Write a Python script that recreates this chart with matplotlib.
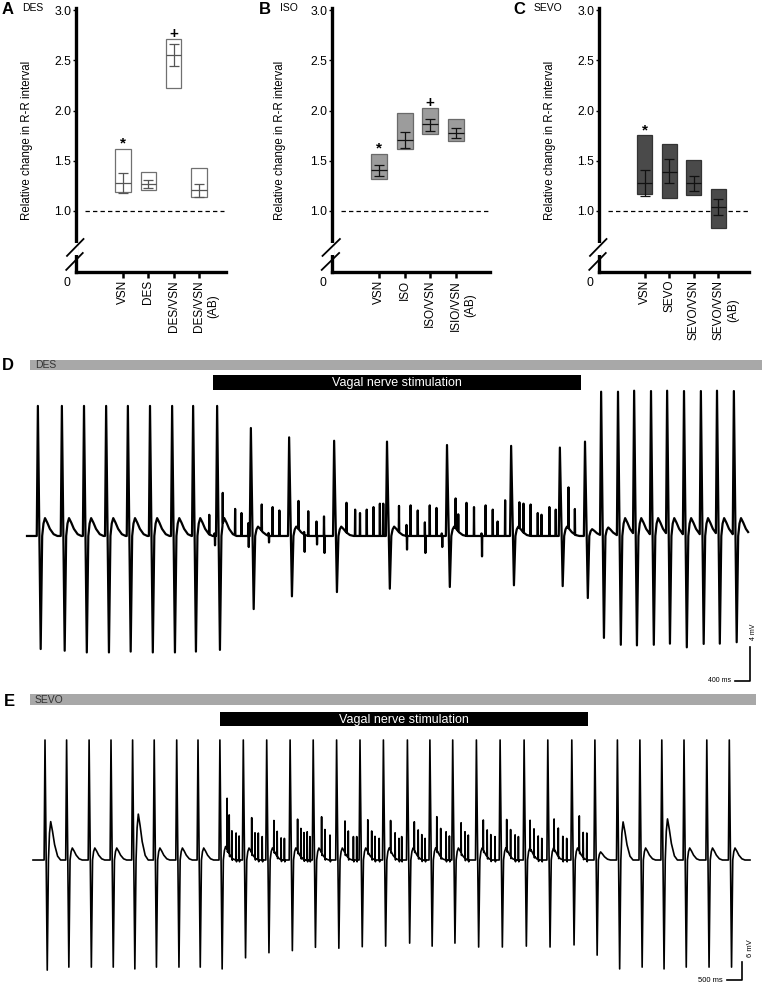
import numpy as np
import matplotlib
matplotlib.use('Agg')
import matplotlib.pyplot as plt
import matplotlib.transforms as mtransforms
from matplotlib.patches import Rectangle

plt.rcParams['font.family'] = ['Liberation Sans', 'DejaVu Sans']

W, H = 767, 999

# ---- panels A-C: relative change in R-R interval
# box = range, middle line = mean, whiskers = SEM
des_labels = ['VSN', 'DES', 'DES/VSN', 'DES/VSN\n(AB)']
des_lo = [1.19, 1.21, 2.22, 1.14]
des_hi = [1.62, 1.39, 2.71, 1.43]
des_mid = [1.28, 1.27, 2.55, 1.21]
des_elo = [1.18, 1.23, 2.44, 1.14]
des_ehi = [1.38, 1.31, 2.66, 1.27]
des_marks = [(0, '*'), (2, '+')]

iso_labels = ['VSN', 'ISO', 'ISO/VSN', 'ISIO/VSN\n(AB)']
iso_lo = [1.32, 1.62, 1.77, 1.70]
iso_hi = [1.57, 1.975, 2.02, 1.92]
iso_mid = [1.41, 1.71, 1.865, 1.78]
iso_elo = [1.35, 1.63, 1.80, 1.73]
iso_ehi = [1.46, 1.79, 1.915, 1.83]
iso_marks = [(0, '*'), (2, '+')]

sevo_labels = ['VSN', 'SEVO', 'SEVO/VSN', 'SEVO/VSN\n(AB)']
sevo_lo = [1.17, 1.13, 1.16, 0.83]
sevo_hi = [1.755, 1.665, 1.51, 1.22]
sevo_mid = [1.28, 1.39, 1.28, 1.04]
sevo_elo = [1.15, 1.28, 1.20, 0.96]
sevo_ehi = [1.41, 1.52, 1.35, 1.12]
sevo_marks = [(0, '*')]

# ---- panel D: ECG under desflurane (time in s, amplitude in mV)
d_beat_t = [1.01, 1.65, 2.24, 2.83, 3.41, 4.00, 4.59, 5.15, 5.79,
            6.69, 7.71, 8.91, 10.32, 11.92, 13.63, 14.93, 15.60,
            16.03, 16.48, 16.91, 17.36, 17.79, 18.24, 18.69, 19.12, 19.57]
d_beat_r = [15.3] * 9 + [12.7, 11.6, 11.2, 11.1, 10.7, 10.6, 10.4, 11.1] + [16.9] * 9
d_beat_s = [-13.3, -13.5, -13.7, -13.7, -13.6, -13.7, -13.7, -13.6, -13.4,
            -8.6, -7.1, -6.6, -6.2, -6.0, -5.8, -5.9, -7.3,
            -12.0, -12.8, -12.9, -12.8, -12.7, -13.1, -12.7, -12.7, -12.5]
d_beat_tw = [2.1] * 9 + [1.1] * 7 + [0.8] + [1.0] + [2.1] * 8
d_spike_t = [5.58, 5.72, 5.94, 6.27, 6.44, 6.62, 6.98, 7.16, 7.27, 7.45,
             7.96, 8.11, 8.22, 8.44, 8.64, 9.24, 9.47, 9.60, 9.78, 9.96,
             10.13, 10.22, 10.64, 10.84, 10.95, 11.14, 11.33, 11.46, 11.64, 11.78,
             12.15, 12.22, 12.44, 12.64, 12.84, 12.95, 13.14, 13.27, 13.47, 13.85,
             13.96, 14.15, 14.34, 14.44, 14.65, 14.82, 15.16, 15.33]
d_spike_up = [2.3, 0.3, 3.6, 3.1, 2.7, 1.5, 3.1, 0.3, 3.4, 3.0,
              3.3, 0.3, 2.9, 1.7, 2.3, 3.5, 3.1, 2.7, 3.1, 3.4,
              3.8, 3.8, 3.1, 1.3, 3.6, 3.0, 1.6, 3.6, 3.3, 0.3,
              3.5, 2.0, 3.9, 3.4, 0.3, 3.6, 3.1, 1.7, 4.2, 3.0,
              3.4, 3.7, 2.7, 2.5, 3.4, 3.1, 4.8, 3.0]
d_spike_dn = [0, -1.1, 0, 0, 0, -1.3, 0, -0.8, 0, 0,
              0, -2.0, 0, -1.0, -2.0, 0, 0, 0, 0, 0,
              0, 0, 0, -1.6, 0, 0, -2.0, 0, 0, -1.3,
              0, 0, 0, 0, -2.4, 0, 0, 0, 0, 0,
              0, 0, 0, 0, 0, 0, 0, 0]

# ---- panel E: ECG under sevoflurane
e_beat_t = [1.50, 2.22, 2.97, 3.70, 4.42, 5.14, 5.89, 6.60, 7.33,
            8.11, 8.89, 9.67, 10.44, 11.22, 12.00, 12.78, 13.58, 14.33, 15.09,
            15.88, 16.67, 17.47, 18.26, 19.06, 19.83, 20.58, 21.33, 22.06, 22.80, 23.56, 24.31]
e_beat_r = [40.0] * 31
e_beat_s = [-36.7, -35.7, -35.7, -35.7, -36.3, -35.7, -35.7, -35.7, -36.3,
            -32.6, -30.9, -30.2, -29.1, -29.4, -28.9, -28.7, -27.7, -28.7, -27.7,
            -29.0, -29.0, -28.7, -29.0, -28.3,
            -31.7, -36.3, -35.7, -36.3, -35.7, -35.7, -35.7]
e_beat_tw = [12.8, 4, 4, 4, 15.3, 4, 4, 4, 4.5] + [4] * 15 + [2.7, 12.7, 4, 13.7, 4, 4, 4]
e_spike_t = [7.57, 7.64, 7.73, 7.87, 7.97, 8.39, 8.50, 8.61, 8.74,
             9.13, 9.24, 9.37, 9.48, 9.92, 10.03, 10.13, 10.24, 10.33,
             10.72, 10.83, 11.00, 11.50, 11.61, 11.78, 11.89,
             12.26, 12.39, 12.50, 12.64, 13.02, 13.17, 13.30, 13.39,
             13.81, 13.94, 14.06, 14.17, 14.56, 14.69, 14.87, 14.98,
             15.37, 15.50, 15.61, 16.11, 16.24, 16.36, 16.50,
             16.89, 17.02, 17.17, 17.28, 17.67, 17.80, 17.94, 18.06,
             18.47, 18.61, 18.76, 18.89, 19.31, 19.44, 19.56]
e_spike_up = [17.0, 13.0, 9.0, 9.0, 8.0, 11.7, 8.3, 8.9, 7.8,
              10.0, 8.3, 7.2, 7.2, 10.6, 9.4, 8.9, 9.4, 7.8,
              12.0, 9.4, 8.3, 10.6, 8.9, 7.8, 7.8,
              10.6, 8.9, 7.8, 7.2, 10.0, 8.3, 7.2, 7.8,
              9.4, 8.9, 8.3, 7.2, 11.1, 9.4, 9.4, 8.0,
              10.0, 8.9, 8.3, 10.0, 8.9, 8.3, 7.8,
              10.0, 8.9, 8.3, 7.8, 9.4, 8.9, 7.8, 7.2,
              10.0, 9.4, 7.8, 7.2, 11.7, 8.3, 8.9]
e_spike_dn = [-0.6] * len(e_spike_up)


def px_axes(fig, x0, y0, x1, y1):
    return fig.add_axes([x0 / W, 1 - y1 / H, (x1 - x0) / W, (y1 - y0) / H])


def box_panel(ax, labels, lo, hi, mid, elo, ehi, marks, face, edge, errc, xmax):
    x = np.arange(1, len(labels) + 1)
    lo, hi, mid = np.array(lo), np.array(hi), np.array(mid)
    elo, ehi = np.array(elo), np.array(ehi)
    ax.patch.set_visible(False)
    ax.bar(x, hi - lo, bottom=lo, width=0.62, color=face, edgecolor=edge, linewidth=0.9, zorder=2)
    ax.hlines(mid, x - 0.31, x + 0.31, color=errc, lw=0.9, zorder=3)
    ax.errorbar(x, mid, yerr=[mid - elo, ehi - mid], fmt='none', ecolor=errc,
                elinewidth=0.9, capsize=3.5, capthick=0.9, zorder=3)
    for i, m in marks:
        ax.text(x[i], hi[i] + 0.01, m, ha='center', va='baseline', fontsize=11, fontweight='bold')
    ax.axhline(1.0, xmin=0.06, xmax=0.99, color='black', ls=(0, (3.5, 2.5)), lw=0.9, zorder=1)

    ax.set_xlim(-0.86, xmax)
    ax.set_ylim(0.393, 3.02)
    for s in ('top', 'right'):
        ax.spines[s].set_visible(False)
    for s in ('left', 'bottom'):
        ax.spines[s].set_linewidth(2.4)
    ax.set_yticks([1.0, 1.5, 2.0, 2.5, 3.0])
    ax.set_yticklabels(['1.0', '1.5', '2.0', '2.5', '3.0'], fontsize=8.8)
    ax.tick_params(axis='y', length=2.5, width=1, pad=1)
    ax.set_xticks(x)
    ax.set_xticklabels([])
    ax.tick_params(axis='x', length=4, width=1.8)
    ax.set_ylabel('Relative change in R-R interval', fontsize=8.3)
    ax.yaxis.set_label_coords(-0.29, 0.5)

    trans = mtransforms.blended_transform_factory(ax.transData, ax.transAxes)
    for xi, lab in zip(x, labels):
        if '\n' in lab:
            ax.text(xi - 0.24, -0.03, lab, transform=trans, rotation=90, rotation_mode='anchor',
                    ha='right', va='top', fontsize=8.5, multialignment='center', linespacing=1.3)
        else:
            ax.text(xi, -0.03, lab, transform=trans, rotation=90, rotation_mode='anchor',
                    ha='right', va='center', fontsize=8.5)
    ax.text(-0.06, -0.04, '0', transform=ax.transAxes, ha='center', va='center', fontsize=8.8)

    # axis break on the y axis
    ax.plot([0, 0], [0.063, 0.11], transform=ax.transAxes, color='white', lw=4,
            clip_on=False, zorder=5, solid_capstyle='butt')
    ax.plot([-0.06, 0.05], [0.061, 0.125], transform=ax.transAxes, color='black', lw=1.3,
            clip_on=False, zorder=6)
    ax.plot([-0.065, 0.045], [0.008, 0.072], transform=ax.transAxes, color='black', lw=1.3,
            clip_on=False, zorder=6)


def trace(beat_t, beat_r, beat_s, beat_tw, spike_t, spike_up, spike_dn, t0, t1):
    beat_off = np.array([-0.03, 0.0, 0.075, 0.115, 0.15, 0.19, 0.25, 0.32, 0.42, 0.52])
    spike_off = np.array([-0.007, 0.0, 0.007, 0.014, 0.021])
    events = []
    for t, r, s, tw in zip(beat_t, beat_r, beat_s, beat_tw):
        events.append((t + beat_off,
                       np.array([0, r, s, 0, 0.7 * tw, tw, 0.75 * tw, 0.4 * tw, 0.1 * tw, 0])))
    for t, u, d in zip(spike_t, spike_up, spike_dn):
        events.append((t + spike_off, np.array([0, u, 0, d, 0])))
    tv = np.unique(np.concatenate([[t0, t1]] + [e[0] for e in events]))
    tv = tv[(tv >= t0) & (tv <= t1)]
    yv = np.zeros_like(tv)
    for kt, kv in events:
        yv += np.interp(tv, kt, kv, left=0, right=0)
    return tv, yv


fig = plt.figure(figsize=(W / 100, H / 100), dpi=100)

# ---- labels and condition bars (pixel layout overlay)
ov = fig.add_axes([0, 0, 1, 1])
ov.set_xlim(0, W)
ov.set_ylim(H, 0)
ov.axis('off')
ov.add_patch(Rectangle((30, 360), 732, 10, color='#a8a8a8', lw=0))
ov.add_patch(Rectangle((213, 375), 368, 15, color='black', lw=0))
ov.add_patch(Rectangle((30, 694), 726, 11, color='#a8a8a8', lw=0))
ov.add_patch(Rectangle((220, 712), 368, 14, color='black', lw=0))
ov.text(35, 365.5, 'DES', ha='left', va='center', fontsize=7.5, color='#333333')
ov.text(35, 700, 'SEVO', ha='left', va='center', fontsize=7.5, color='#333333')
ov.text(397, 383, 'Vagal nerve stimulation', ha='center', va='center', fontsize=9, color='white')
ov.text(404, 719.5, 'Vagal nerve stimulation', ha='center', va='center', fontsize=9, color='white')

for x, y, letter in [(2, 10, 'A'), (259, 10, 'B'), (513, 10, 'C'), (2, 366, 'D'), (4, 701, 'E')]:
    ov.text(x, y, letter, ha='left', va='center', fontsize=12, fontweight='bold')
for x, y, name in [(22, 8, 'DES'), (280, 8, 'ISO'), (534, 8, 'SEVO')]:
    ov.text(x, y, name, ha='left', va='center', fontsize=7.5)

ax_a = px_axes(fig, 76, 8, 226, 272)
box_panel(ax_a, des_labels, des_lo, des_hi, des_mid, des_elo, des_ehi, des_marks,
          'white', '#707070', '#555555', 5.07)
ax_b = px_axes(fig, 332, 8, 490, 272)
box_panel(ax_b, iso_labels, iso_lo, iso_hi, iso_mid, iso_elo, iso_ehi, iso_marks,
          '#9c9c9c', '#6a6a6a', '#111111', 5.35)
ax_c = px_axes(fig, 599, 8, 749, 272)
box_panel(ax_c, sevo_labels, sevo_lo, sevo_hi, sevo_mid, sevo_elo, sevo_ehi, sevo_marks,
          '#4a4a4a', '#333333', '#111111', 5.25)

# ---- ECG traces
ax_d = px_axes(fig, 0, 385, W, 690)
t, v = trace(d_beat_t, d_beat_r, d_beat_s, d_beat_tw, d_spike_t, d_spike_up, d_spike_dn, 0.72, 19.95)
ax_d.plot(t, v, color='black', lw=1.6)
ax_d.set_xlim(0, W / 37.5)
ax_d.set_ylim(-18.12, 17.76)
ax_d.plot([19.6, 20.0, 20.0], [-17.06, -17.06, -13.06], color='black', lw=1.2)
ax_d.text(19.5, -17.06, '400 ms', ha='right', va='center', fontsize=5)
ax_d.text(20.1, -11.3, '4 mV', ha='center', va='center', rotation=90, fontsize=5)
ax_d.axis('off')

ax_e = px_axes(fig, 0, 735, W, 990)
t, v = trace(e_beat_t, e_beat_r, e_beat_s, e_beat_tw, e_spike_t, e_spike_up, e_spike_dn, 1.1, 25.0)
ax_e.plot(t, v, color='black', lw=1.2)
ax_e.set_xlim(0, W / 30)
ax_e.set_ylim(-43.33, 41.67)
ax_e.plot([24.23, 24.73, 24.73], [-40, -40, -34], color='black', lw=1.2)
ax_e.text(24.1, -40, '500 ms', ha='right', va='center', fontsize=5.5)
ax_e.text(25.0, -29.3, '6 mV', ha='center', va='center', rotation=90, fontsize=5.5)
ax_e.axis('off')

fig.savefig('out.png', dpi=100)
